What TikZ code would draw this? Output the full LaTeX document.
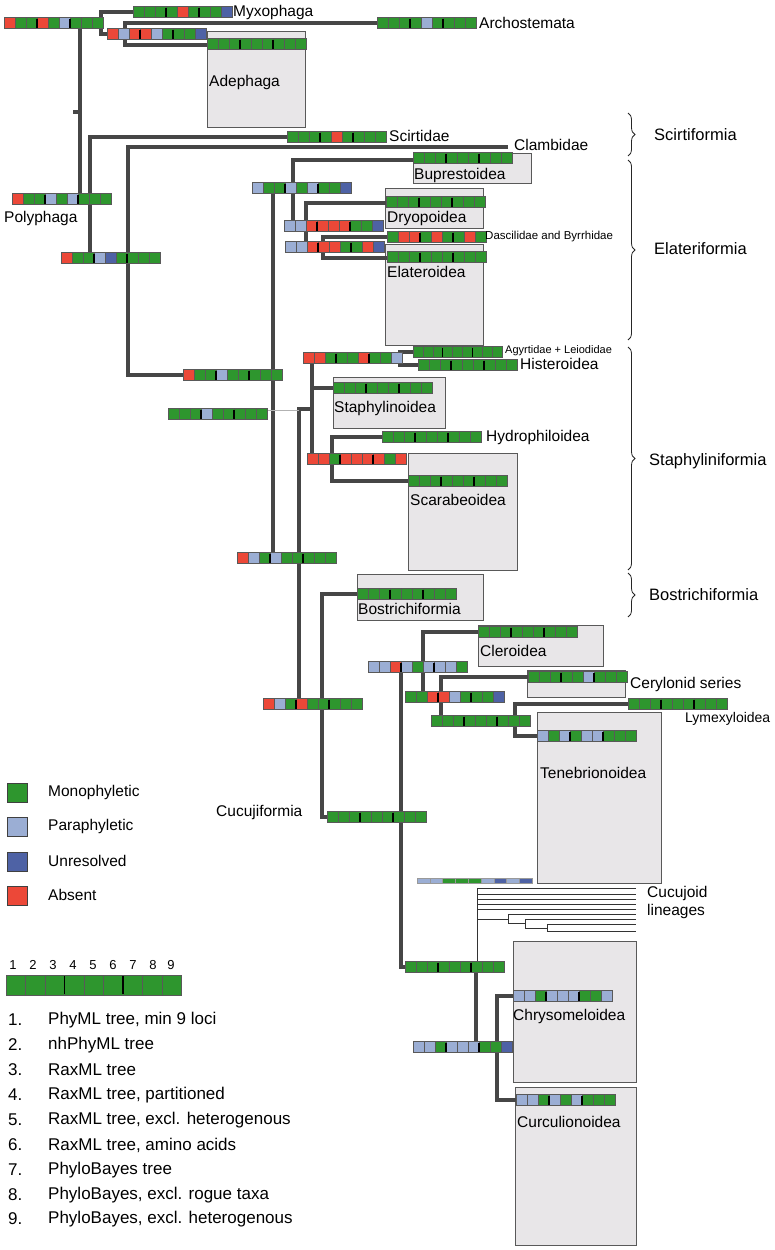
\documentclass[tikz,border=0pt]{standalone}
\usepackage{fontspec}
\setmainfont{Liberation Sans}
\usetikzlibrary{decorations.pathreplacing}
\definecolor{cG}{RGB}{46,150,46}
\definecolor{cL}{RGB}{155,174,212}
\definecolor{cU}{RGB}{78,98,165}
\definecolor{cR}{RGB}{236,72,56}
\definecolor{boxfill}{RGB}{232,230,232}
\definecolor{linec}{RGB}{70,70,70}
\newcommand{\cbarg}[5]{%
  \foreach \col [count=\k from 0] in {#5} {
    \filldraw[fill=c\col, draw=black!65, line width=0.5pt] ({#1+\k*#3},{#2-#4/2}) rectangle ++(#3,#4);
  }
  \draw[black, line width=1.5pt] ({#1+3*#3},{#2-#4/2+1}) -- ++(0,#4-2);
  \draw[black, line width=1.5pt] ({#1+6*#3},{#2-#4/2+1}) -- ++(0,#4-2);
}
\newcommand{\cbar}[3]{\cbarg{#1}{#2}{11}{11}{#3}}
\tikzset{
  br/.style={line width=3.8pt, draw=linec},
  thinbr/.style={line width=0.8pt, draw=black!80},
  grpbox/.style={fill=boxfill, draw=black!65, line width=0.9pt},
  lab/.style={font=\fontsize{15.5}{18}\selectfont, anchor=west, inner sep=0pt},
  slab/.style={font=\fontsize{11.5}{13}\selectfont, anchor=west, inner sep=0pt},
  clab/.style={font=\fontsize{16.5}{19}\selectfont, anchor=west, inner sep=0pt},
  llab/.style={font=\fontsize{17}{20}\selectfont, anchor=west, inner sep=0pt},
  brc/.style={decorate, decoration={brace, amplitude=7pt}, line width=0.8pt, draw=black!85},
  legsq/.style={draw=black!75, line width=1pt}
}
\begin{document}
\begin{tikzpicture}[x=1pt,y=-1pt]
\useasboundingbox (0,0) rectangle (775,1250);
\fill[white] (0,0) rectangle (775,1250);

% ---------- group boxes ----------
\draw[grpbox] (207,31) rectangle (305,127);
\draw[grpbox] (413,153) rectangle (531,183);
\draw[grpbox] (385,188) rectangle (483,228);
\draw[grpbox] (385,244) rectangle (483,345);
\draw[grpbox] (333,377) rectangle (445,428);
\draw[grpbox] (408,453) rectangle (517,570);
\draw[grpbox] (357,574) rectangle (483,620);
\draw[grpbox] (478,625) rectangle (603,666);
\draw[grpbox] (527,670) rectangle (625,697);
\draw[grpbox] (537,712) rectangle (661,883);
\draw[grpbox] (513,941) rectangle (636,1082);
\draw[grpbox] (515,1087) rectangle (636,1245);

% ---------- branches ----------
\draw[br] (133,12) -- (101,12) -- (101,34) -- (107,34);
\draw[br] (377,23) -- (125,23) -- (125,45) -- (207,45);
\draw[br] (80,23) -- (80,199);
\draw[br] (73,112) -- (80,112);
\draw[br] (287,137) -- (90,137) -- (90,258);
\draw[br] (508,147) -- (128,147) -- (128,375) -- (183,375);
\draw[br] (273,188) -- (273,558);
\draw[br] (413,160) -- (293,160) -- (293,226);
\draw[br] (386,203) -- (306,203) -- (306,247);
\draw[br] (387,237) -- (323,237) -- (323,258) -- (387,258);
\draw[br] (299,704) -- (299,409) -- (312,409);
\draw[br] (312,358) -- (312,459);
\draw[br] (312,388) -- (333,388);
\draw[line width=0.8pt, draw=black!30] (267,410) -- (299,410);
\draw[br] (413,352) -- (400,352) -- (400,365) -- (418,365);
\draw[br] (382,437) -- (332,437) -- (332,481) -- (408,481);
\draw[br] (357,594) -- (322,594) -- (322,817) -- (327,817);
\draw[br] (401,666) -- (401,967) -- (405,967);
\draw[br] (478,632) -- (423,632) -- (423,697);
\draw[br] (528,677) -- (441,677) -- (441,720);
\draw[br] (628,704) -- (515,704) -- (515,736) -- (537,736);
\draw[br] (476,967) -- (476,1046);
\draw[br] (513,996) -- (497,996) -- (497,1100) -- (516,1100);

% ---------- cucujoid lineages (thin tree) ----------
\draw[thinbr] (477,888) -- (477,963);
\foreach \yy in {888,894,899.3,904.3,909.3} {\draw[thinbr] (477,\yy) -- (636,\yy);}
\draw[thinbr] (477,919.3) -- (508,919.3);
\draw[thinbr] (508,914.3) -- (508,923.3);
\draw[thinbr] (508,914.3) -- (636,914.3);
\draw[thinbr] (508,923.3) -- (525,923.3);
\draw[thinbr] (525,919.3) -- (525,928.3);
\draw[thinbr] (525,919.3) -- (636,919.3);
\draw[thinbr] (525,928.3) -- (547,928.3);
\draw[thinbr] (547,924) -- (547,931.7);
\draw[thinbr] (547,924) -- (636,924);
\draw[thinbr] (547,931.7) -- (636,931.7);

% ---------- support bars ----------
\cbar{4}{23}{R,G,G,R,G,L,G,G,G}
\cbar{133}{12}{G,G,G,G,R,G,G,G,U}
\cbar{107}{34}{R,L,R,R,L,G,G,G,U}
\cbar{377}{23}{G,G,G,G,L,G,G,G,G}
\cbar{207}{44}{G,G,G,G,G,G,G,G,G}
\cbar{287}{137}{G,G,G,G,R,G,G,G,G}
\cbar{12}{199}{R,G,G,L,G,L,G,G,G}
\cbar{61}{258}{R,G,G,L,U,G,G,G,G}
\cbar{183}{375}{R,G,G,L,G,G,G,G,G}
\cbar{252}{188}{L,G,G,L,G,L,G,G,U}
\cbar{413}{158}{G,G,G,G,G,G,G,G,G}
\cbar{284}{226}{L,L,R,R,R,R,G,G,U}
\cbar{386}{202}{G,G,G,G,G,G,G,G,G}
\cbar{285}{247}{L,L,R,R,R,G,G,R,U}
\cbar{387}{237}{G,R,R,G,R,G,G,R,G}
\cbar{387}{257}{G,G,G,G,G,G,G,G,G}
\cbar{168}{414}{G,G,G,L,G,G,G,G,G}
\cbar{303}{358}{R,R,G,G,G,R,G,G,L}
\cbarg{413}{352}{9.9}{11}{G,G,G,G,G,G,G,G,G}
\cbar{418}{365}{G,G,G,G,G,G,G,G,G}
\cbar{333}{388}{G,G,G,G,G,G,G,G,G}
\cbar{307}{459}{R,R,G,R,R,R,R,G,R}
\cbar{382}{437}{G,G,G,G,G,G,G,G,G}
\cbar{408}{481}{G,G,G,G,G,G,G,G,G}
\cbar{237}{558}{R,L,G,L,G,G,G,G,G}
\cbar{263}{704}{R,L,G,R,G,G,G,G,G}
\cbar{357}{594}{G,G,G,G,G,G,G,G,G}
\cbar{327}{817}{G,G,G,G,G,G,G,G,G}
\cbar{368}{667}{L,L,R,L,G,L,L,L,G}
\cbar{478}{632}{G,G,G,G,G,G,G,G,G}
\cbar{405}{697}{G,G,R,R,L,G,G,G,U}
\cbar{528}{677}{G,G,G,G,G,L,G,G,G}
\cbar{431}{721}{G,G,G,G,G,G,G,G,G}
\cbar{628}{704}{G,G,G,G,G,G,G,G,G}
\cbar{537}{736}{L,G,L,G,L,L,G,G,G}
\cbar{405}{967}{G,G,G,G,G,G,G,G,G}
\cbar{413}{1047}{L,L,G,L,L,L,G,G,U}
\cbar{513}{996}{L,L,G,L,L,L,G,G,L}
\cbar{516}{1100}{L,L,G,L,G,L,G,G,G}
% thin cucujoid bar
\foreach \col [count=\k from 0] in {L,L,G,G,G,L,U,L,U} {
  \filldraw[fill=c\col, draw=black!40, line width=0.4pt] ({417+\k*12.8},878.5) rectangle ++(12.8,5);
}

% ---------- labels ----------
\node[lab] (myxo) at (233,12) {Myxophaga};
\node[lab] (archo) at (479,23) {Archostemata};
\node[lab] (adeph) at (209,82) {Adephaga};
\node[lab] (scirt) at (389,136) {Scirtidae};
\node[lab] (clamb) at (514,145) {Clambidae};
\node[lab] (polyph) at (4,218) {Polyphaga};
\node[lab] (bupr) at (414,175) {Buprestoidea};
\node[lab] (dryo) at (387,218) {Dryopoidea};
\node[slab] (dasc) at (485,237) {Dascilidae and Byrrhidae};
\node[lab] (elat) at (387,272) {Elateroidea};
\node[slab, font=\fontsize{11}{13}\selectfont] (agyr) at (505,351) {Agyrtidae + Leiodidae};
\node[lab] (hist) at (520,364) {Histeroidea};
\node[lab] (staph) at (334,408) {Staphylinoidea};
\node[lab] (hydro) at (486,437) {Hydrophiloidea};
\node[lab] (scarab) at (410,500) {Scarabeoidea};
\node[lab] (bostr) at (358,609) {Bostrichiformia};
\node[lab] (cler) at (480,651) {Cleroidea};
\node[lab] (ceryl) at (630,684) {Cerylonid series};
\node[lab, font=\fontsize{14}{16}\selectfont] (lymex) at (685,719) {Lymexyloidea};
\node[lab] (teneb) at (540,773) {Tenebrionoidea};
\node[lab] (cucuj) at (216,812) {Cucujiformia};
\node[lab, align=left] (cucl) at (647,902) {Cucujoid\\lineages};
\node[lab] (chrys) at (513,1016) {Chrysomeloidea};
\node[lab] (curc) at (517,1122) {Curculionoidea};

% ---------- braces ----------
\draw[brc] (628,113) -- (628,156);
\draw[brc] (628,160) -- (628,340);
\draw[brc] (628,347) -- (628,570);
\draw[brc] (628,573) -- (628,617);
\node[clab] (scirtif) at (654,135) {Scirtiformia};
\node[clab] (elatif) at (654,249) {Elateriformia};
\node[clab] (staphif) at (649,461) {Staphyliniformia};
\node[clab] (bostrif) at (649,595) {Bostrichiformia};

% ---------- legend ----------
\filldraw[legsq, fill=cG] (7,783) rectangle (27,802);
\filldraw[legsq, fill=cL] (7,817) rectangle (27,836);
\filldraw[legsq, fill=cU] (7,852) rectangle (27,871);
\filldraw[legsq, fill=cR] (7,886) rectangle (27,905);
\node[lab] (lmono) at (48,792) {Monophyletic};
\node[lab] (lpara) at (48,826) {Paraphyletic};
\node[lab] (lunre) at (48,861) {Unresolved};
\node[lab] (labs) at (48,895) {Absent};
\foreach \n/\xx in {1/13,2/33,3/53,4/73,5/93,6/113,7/133,8/153,9/171} {
  \node[font=\fontsize{13}{15}\selectfont, inner sep=0pt] (num\n) at (\xx,965) {\n};
}
\cbarg{6}{985}{19.5}{20}{G,G,G,G,G,G,G,G,G}
\foreach \n/\yy/\t in {1/1020/{PhyML tree, min 9 loci},2/1045/{nhPhyML tree},3/1070/{RaxML tree},4/1095/{RaxML tree, partitioned},5/1120/{RaxML tree, excl. heterogenous},6/1145/{RaxML tree, amino acids},7/1170/{PhyloBayes tree},8/1195/{PhyloBayes, excl. rogue taxa},9/1219/{PhyloBayes, excl. heterogenous}} {
  \node[llab] (ln\n) at (8,\yy) {\n.};
  \node[llab] (lt\n) at (48,\yy) {\t};
}
\end{tikzpicture}
\end{document}
